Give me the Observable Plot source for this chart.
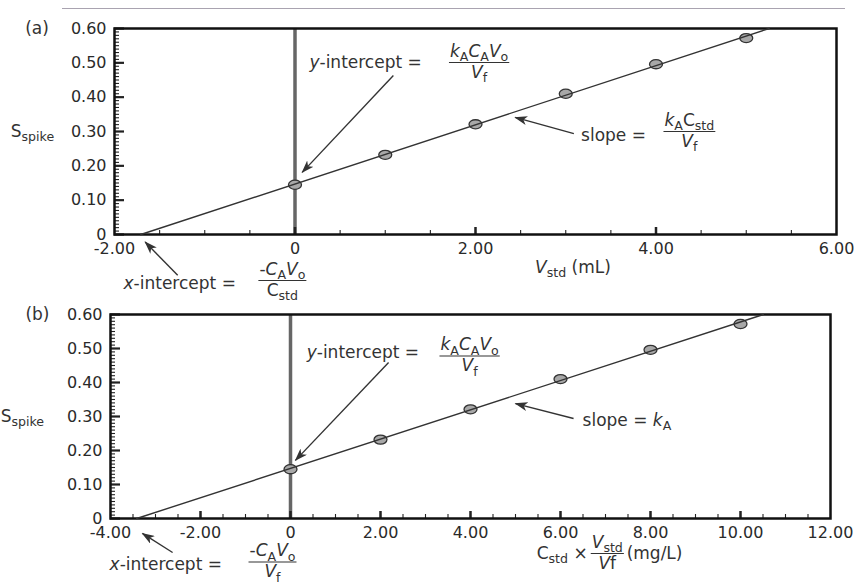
<!DOCTYPE html>
<html><head><meta charset="utf-8">
<script src="https://cdn.jsdelivr.net/npm/d3@7"></script>
<script src="https://cdn.jsdelivr.net/npm/@observablehq/plot@0.6"></script>
<style>
body{margin:0;background:#fff;width:860px;height:584px;position:relative;overflow:hidden;font-family:"DejaVu Sans",sans-serif}
#topline{position:absolute;left:62px;top:8px;width:783px;border-top:1.5px solid #a9a3b0}
#pa{position:absolute;left:0;top:0}
#pb{position:absolute;left:0;top:290px}
</style></head><body>
<div id="topline"></div><div id="pa"></div><div id="pb"></div>
<script>
// ---------- data ----------
const vStd = [0, 1, 2, 3, 4, 5];                 // (a) x: Vstd (mL)
const cStdRatio = [0, 2, 4, 6, 8, 10];          // (b) x: Cstd × Vstd/Vf (mg/L)
const sSpike = [0.145, 0.232, 0.321, 0.410, 0.496, 0.572];
const yTicks = [0, 0.1, 0.2, 0.3, 0.4, 0.5, 0.6];
const yMinor = d3.range(0, 61).map(i => i / 100);
const xTicksA = [-2, 0, 2, 4, 6];
const xMinorA = d3.range(-4, 13).map(i => i / 2);
const xTicksB = [-4, -2, 0, 2, 4, 6, 8, 10, 12];
const xMinorB = d3.range(-8, 25).map(i => i / 2);

// annotations (positions in data units); "*..*" italic, "_{..}" subscript
const labelsA = [
  {x: -2.99, y: 0.60, t: "(a)", a: "start"},
  {x: -3.15, y: 0.30, t: "S_{spike}", a: "start"},
  {x: 0.16, y: 0.50, t: "*y*-intercept =", a: "start"},
  {x: 3.17, y: 0.288, t: "slope =", a: "start"},
  {x: -1.90, y: -0.143, t: "*x*-intercept =", a: "start"},
  {x: 3.08, y: -0.096, t: "*V*_{std} (mL)", a: "middle"}
];
const fracsA = [  // y = level of the fraction bar
  {x: 2.04, y: 0.501, num: "*k*_{A}*C*_{A}*V*_{o}", den: "*V*_{f}"},
  {x: 4.37, y: 0.300, num: "*k*_{A}C_{std}", den: "*V*_{f}"},
  {x: -0.14, y: -0.134, num: "-*C*_{A}*V*_{o}", den: "C_{std}"}
];
const arrowsA = [
  {x1: 1.09, y1: 0.463, x2: 0.08, y2: 0.181},
  {x1: 3.09, y1: 0.294, x2: 2.44, y2: 0.341},
  {x1: -1.30, y1: -0.119, x2: -1.66, y2: -0.022}
];
const labelsB = [
  {x: -5.89, y: 0.60, t: "(b)", a: "start"},
  {x: -6.44, y: 0.30, t: "S_{spike}", a: "start"},
  {x: 0.36, y: 0.488, t: "*y*-intercept =", a: "start"},
  {x: 6.49, y: 0.288, t: "slope = *k*_{A}", a: "start"},
  {x: -4.02, y: -0.136, t: "*x*-intercept =", a: "start"},
  {x: 5.47, y: -0.103, t: "C_{std} ×", a: "start"},
  {x: 7.47, y: -0.103, t: "(mg/L)", a: "start"}
];
const fracsB = [
  {x: 3.98, y: 0.478, num: "*k*_{A}*C*_{A}*V*_{o}", den: "*V*_{f}"},
  {x: -0.40, y: -0.128, num: "-*C*_{A}*V*_{o}", den: "*V*_{f}"},
  {x: 7.04, y: -0.103, num: "*V*_{std}", den: "*V*f"}
];
const arrowsB = [
  {x1: 2.18, y1: 0.459, x2: 0.11, y2: 0.171},
  {x1: 6.29, y1: 0.294, x2: 5.00, y2: 0.338},
  {x1: -2.62, y1: -0.100, x2: -3.29, y2: -0.044}
];

// ---------- helpers ----------
const FS = 17;           // annotation font size
const NUM_DY = -11, DEN_DY = 10;
const ellipse = {draw(ctx, size) {
  const r = Math.sqrt(size / Math.PI), rx = r * 1.35, ry = r * 0.95, kx = rx * 0.5523, ky = ry * 0.5523;
  ctx.moveTo(rx, 0);
  ctx.bezierCurveTo(rx, ky, kx, ry, 0, ry);
  ctx.bezierCurveTo(-kx, ry, -rx, ky, -rx, 0);
  ctx.bezierCurveTo(-rx, -ky, -kx, -ry, 0, -ry);
  ctx.bezierCurveTo(kx, -ry, rx, -ky, rx, 0);
  ctx.closePath();
}};
function fit(xs, ys) {
  const mx = d3.mean(xs), my = d3.mean(ys);
  const b = d3.sum(xs, (x, i) => (x - mx) * (ys[i] - my)) / d3.sum(xs, x => (x - mx) ** 2);
  return {a: my - b * mx, b};
}
const fmt = d => d === 0 ? "0" : d.toFixed(2);

function parseRich(s) {
  const segs = []; let it = false, i = 0, cur = "";
  const push = () => { if (cur) segs.push({t: cur, it, sub: false}); cur = ""; };
  while (i < s.length) {
    const c = s[i];
    if (c === "*") { push(); it = !it; i++; }
    else if (c === "_" && s[i + 1] === "{") {
      push(); const j = s.indexOf("}", i);
      segs.push({t: s.slice(i + 2, j), it: false, sub: true}); i = j + 1;
    } else { cur += c; i++; }
  }
  push();
  return segs;
}
function richify(svg) {
  const ns = "http://www.w3.org/2000/svg";
  svg.querySelectorAll("text").forEach(t => {
    let s = t.textContent;
    if (!/[*^]|_\{/.test(s)) return;
    let bar = false;
    if (s[0] === "^") { bar = true; s = s.slice(1); }
    const fs = parseFloat(getComputedStyle(t).fontSize) || FS;
    t.textContent = "";
    let inSub = false;
    for (const g of parseRich(s)) {
      const ts = document.createElementNS(ns, "tspan");
      ts.textContent = g.t;
      if (g.it) ts.setAttribute("font-style", "italic");
      if (g.sub && !inSub) { ts.setAttribute("dy", 0.25 * fs); inSub = true; }
      else if (!g.sub && inSub) { ts.setAttribute("dy", -0.25 * fs); inSub = false; }
      if (g.sub) ts.setAttribute("font-size", 0.74 * fs);
      t.appendChild(ts);
    }
    if (bar) {
      const bb = t.getBBox();
      const ln = document.createElementNS(ns, "line");
      const yb = -NUM_DY;   // bar level in the numerator's local coordinates
      ln.setAttribute("x1", bb.x - 1); ln.setAttribute("x2", bb.x + bb.width + 1);
      ln.setAttribute("y1", yb); ln.setAttribute("y2", yb);
      ln.setAttribute("stroke", "#333"); ln.setAttribute("stroke-width", 1.2);
      if (t.getAttribute("transform")) ln.setAttribute("transform", t.getAttribute("transform"));
      t.parentNode.appendChild(ln);
    }
  });
  // turn Plot's open arrow markers into filled arrowheads
  svg.querySelectorAll("marker").forEach(m => {
    m.setAttribute("viewBox", "0 0 13 9");
    m.setAttribute("markerWidth", 13); m.setAttribute("markerHeight", 9);
    m.setAttribute("refX", 12); m.setAttribute("refY", 4.5);
    m.setAttribute("markerUnits", "userSpaceOnUse");
    m.setAttribute("orient", "auto");
    m.innerHTML = '<path d="M0,0L13,4.5L0,9L3.5,4.5Z" fill="#333" stroke="none"/>';
  });
}

function panel({xs, xDomain, xTicks, xMinor, labels, fracs, arrows, height, margins}) {
  const {a, b} = fit(xs, sSpike);
  const pts = xs.map((x, i) => ({x, y: sSpike[i]}));
  const fitLine = [{x: -a / b, y: 0}, {x: (0.6 - a) / b, y: 0.6}];
  const txt = {x: "x", y: "y", fontSize: FS, fill: "#333"};
  return Plot.plot({
    width: 860, height, ...margins,
    style: {fontFamily: "DejaVu Sans", background: "transparent", overflow: "visible", color: "#333"},
    x: {domain: xDomain},
    y: {domain: [0, 0.6]},
    marks: [
      Plot.ruleX([0], {stroke: "#666", strokeWidth: 3.5}),
      Plot.axisY(yMinor, {tickSize: -5, fill: "none", label: null, strokeWidth: 1.1, stroke: "#222"}),
      Plot.axisY(yTicks, {tickSize: -10, fill: "none", label: null, strokeWidth: 2.2, stroke: "#222"}),
      Plot.axisY(yTicks, {tickSize: 0, tickPadding: 8, tickFormat: fmt, label: null, fontSize: 16, fill: "#2a2a2a"}),
      Plot.axisX(xMinor, {tickSize: -4, fill: "none", label: null, strokeWidth: 1.1, stroke: "#222"}),
      Plot.axisX(xTicks.slice(1, -1), {tickSize: -7, fill: "none", label: null, strokeWidth: 2.5, stroke: "#222"}),
      Plot.axisX(xTicks, {tickSize: 0, tickPadding: 8, tickFormat: fmt, label: null, fontSize: 16, fill: "#2a2a2a"}),
      Plot.frame({stroke: "#111", strokeWidth: 2.5}),
      Plot.dot(pts, {x: "x", y: "y", symbol: ellipse, r: 4.8, fill: "#a8a8a8", stroke: "#333", strokeWidth: 1.3}),
      Plot.line(fitLine, {x: "x", y: "y", stroke: "#333", strokeWidth: 1.4}),
      Plot.link(arrows, {x1: "x1", y1: "y1", x2: "x2", y2: "y2", stroke: "#333", strokeWidth: 1.4, markerEnd: "arrow"}),
      Plot.text(labels.filter(d => d.a === "start"), {...txt, text: "t", textAnchor: "start"}),
      Plot.text(labels.filter(d => d.a === "middle"), {...txt, text: "t", textAnchor: "middle"}),
      Plot.text(fracs, {...txt, text: d => "^" + d.num, textAnchor: "middle", dy: NUM_DY}),
      Plot.text(fracs, {...txt, text: "den", textAnchor: "middle", dy: DEN_DY})
    ]
  });
}

const pa = panel({xs: vStd, xDomain: [-2, 6], xTicks: xTicksA, xMinor: xMinorA, labels: labelsA, fracs: fracsA, arrows: arrowsA,
  height: 290, margins: {marginLeft: 114, marginRight: 24, marginTop: 28, marginBottom: 56}});
document.getElementById("pa").appendChild(pa);
richify(pa);
const pb = panel({xs: cStdRatio, xDomain: [-4, 12], xTicks: xTicksB, xMinor: xMinorB, labels: labelsB, fracs: fracsB, arrows: arrowsB,
  height: 294, margins: {marginLeft: 110, marginRight: 30, marginTop: 24, marginBottom: 66}});
document.getElementById("pb").appendChild(pb);
richify(pb);
</script></body></html>
